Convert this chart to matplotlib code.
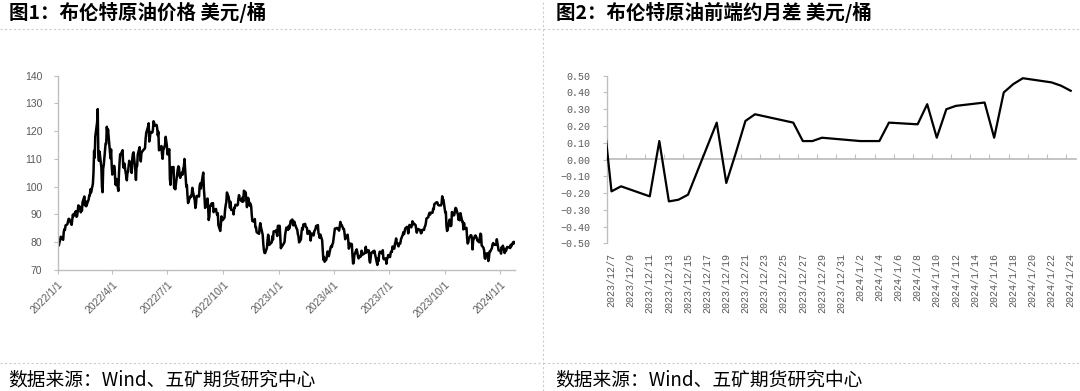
import matplotlib
matplotlib.use("Agg")
import matplotlib.pyplot as plt
from matplotlib.lines import Line2D
import pandas as pd
import numpy as np

plt.rcParams['font.family'] = ['Noto Sans CJK SC', 'DejaVu Sans']

# ---------------- data ----------------
title_left = '图1：布伦特原油价格 美元/桶'
title_right = '图2：布伦特原油前端约月差 美元/桶'
source_text = '数据来源：Wind、五矿期货研究中心'

# Brent daily price (weekdays), USD/bbl
brent_2022 = [
    78.98, 80.00, 80.80, 81.99, 81.75, 80.87, 83.72, 84.67, 84.47, 86.06, 86.48, 87.51, 88.44, 88.38, 87.89, 86.27, 88.20, 89.96, 89.34, 90.03, 91.21,
    89.16, 89.47, 91.11, 93.27, 92.69, 90.78, 91.55, 91.41, 94.44, 96.48, 93.28, 94.81, 92.97, 93.54, 95.39, 96.84, 96.84, 99.08, 97.93, 100.99,
    104.97, 112.93, 110.46, 118.11, 123.21, 127.98, 111.14, 109.33, 112.67, 106.90, 99.91, 98.02, 106.64, 107.93, 115.62, 115.48, 121.60, 119.03, 120.65, 112.48, 110.23, 113.45, 107.91,
    104.39, 107.53, 106.64, 101.07, 100.58, 102.78, 98.48, 104.64, 108.78, 111.70, 111.70, 113.16, 107.25, 106.80, 108.33, 106.65, 102.32, 104.99, 105.32, 107.59, 109.34,
    107.58, 104.97, 110.14, 111.90, 112.39, 105.94, 102.46, 107.51, 107.45, 111.55, 114.24, 111.93, 109.11, 112.04, 112.55, 113.42, 113.56, 114.03, 117.40, 119.43, 121.67, 122.84,
    116.29, 117.61, 119.72, 119.51, 120.57, 123.58, 123.07, 122.01, 122.27, 121.17, 118.51, 119.81, 113.12, 114.13, 114.65, 111.74, 110.05, 113.12, 115.09, 117.98, 116.26, 114.81,
    111.63, 113.50, 102.77, 100.69, 104.65, 107.02, 107.10, 99.49, 99.57, 99.10, 101.16, 106.27, 107.35, 106.92, 103.86, 103.20, 105.15, 104.40, 106.62, 107.14, 110.01,
    100.03, 100.54, 96.78, 94.12, 94.92, 96.65, 96.31, 97.40, 99.60, 98.15, 95.10, 92.34, 93.65, 96.59, 96.72, 96.48, 100.22, 101.22, 99.34, 100.99, 105.09, 99.31, 96.49,
    92.36, 93.02, 95.74, 92.83, 88.00, 89.15, 92.84, 94.00, 93.17, 94.10, 90.84, 91.35, 92.00, 90.62, 89.83, 90.46, 86.15, 84.06, 86.27, 89.32, 88.49, 87.96,
    88.86, 91.80, 93.37, 94.42, 97.92, 96.19, 94.29, 92.45, 94.57, 91.63, 91.62, 90.03, 92.41, 92.38, 93.50, 93.26, 93.52, 95.69, 96.96, 95.77, 94.83,
    94.65, 96.16, 94.67, 98.57, 97.92, 95.36, 92.65, 93.67, 95.99, 93.14, 93.86, 92.86, 89.78, 87.62, 87.45, 88.36, 85.41, 85.34, 83.63, 83.19, 83.03, 85.43,
    86.88, 85.57, 82.68, 79.35, 77.17, 76.15, 76.10, 77.99, 80.68, 82.70, 81.21, 79.04, 79.80, 79.99, 82.20, 80.98, 83.92, 83.92, 84.33, 83.26, 82.26, 85.91,
]
brent_2023 = [
    85.91, 82.10, 77.84, 78.69, 78.57, 79.65, 80.10, 82.67, 84.03, 85.28, 84.46, 85.92, 84.98, 86.16, 87.63, 88.19, 86.13, 86.12, 87.47, 86.66, 84.90, 84.49,
    82.84, 82.17, 79.94, 80.99, 83.69, 85.09, 84.50, 86.39, 86.61, 85.58, 85.38, 85.14, 83.00, 84.07, 83.05, 80.60, 82.21, 83.16, 82.45, 83.89,
    84.31, 84.75, 85.83, 86.18, 83.29, 82.66, 81.59, 82.78, 80.77, 77.45, 73.69, 74.70, 72.97, 73.79, 75.32, 76.69, 75.91, 74.99, 78.12, 78.65, 78.28, 79.27, 79.77,
    84.93, 84.94, 84.99, 85.12, 85.12, 84.18, 85.61, 87.33, 86.09, 86.31, 84.76, 84.77, 83.12, 81.10, 81.66, 82.73, 80.77, 77.69, 78.37, 79.54,
    79.31, 75.32, 72.33, 72.50, 75.30, 77.01, 77.44, 76.41, 74.98, 74.17, 75.23, 74.91, 76.96, 75.86, 75.58, 75.99, 76.84, 78.36, 76.26, 76.95, 77.07, 73.54, 72.66,
    74.28, 76.13, 76.71, 76.29, 76.95, 75.96, 74.79, 71.84, 74.29, 73.20, 75.67, 76.61, 76.09, 75.90, 77.12, 74.14, 73.85, 74.18, 72.26, 74.03, 74.34, 75.41,
    74.65, 76.25, 76.65, 76.52, 78.47, 77.69, 79.40, 80.11, 81.36, 79.87, 78.50, 79.63, 79.46, 79.64, 81.07, 82.74, 83.64, 82.92, 83.81, 84.99, 85.56,
    84.91, 83.20, 85.14, 86.24, 85.34, 86.17, 87.55, 86.40, 86.81, 86.21, 84.89, 83.45, 84.12, 84.80, 84.46, 84.03, 83.21, 83.36, 84.48, 84.42, 85.49, 85.86, 86.86,
    88.55, 89.00, 90.04, 90.60, 89.92, 90.65, 90.64, 92.06, 91.88, 93.70, 93.93, 94.43, 94.34, 93.53, 93.30, 93.27, 93.29, 93.96, 96.55, 95.38, 95.31,
    90.71, 90.92, 85.81, 84.07, 84.58, 88.15, 87.65, 85.82, 86.00, 90.89, 89.65, 89.90, 91.50, 92.38, 92.16, 89.83, 88.07, 90.13, 87.93, 90.48, 87.45, 87.41,
    84.63, 86.85, 84.89, 85.18, 81.61, 79.54, 80.01, 81.43, 82.52, 82.47, 81.18, 77.42, 80.61, 82.32, 82.45, 81.96, 81.42, 80.58, 79.98, 81.68, 83.10, 82.83,
    78.88, 78.03, 77.20, 74.30, 74.05, 75.84, 76.03, 73.24, 74.26, 76.61, 76.55, 77.95, 79.23, 79.70, 79.39, 79.07, 79.07, 81.07, 79.65, 78.39, 77.04,
]
brent_2024 = [77.04, 75.89, 78.25, 77.59, 78.76, 76.12, 77.59, 76.80, 77.41, 78.29, 78.15, 78.29, 77.88, 79.10, 78.56, 80.06, 79.55, 80.04]

price_ticks = [70, 80, 90, 100, 110, 120, 130, 140]
price_xticks = ['2022/1/1', '2022/4/1', '2022/7/1', '2022/10/1', '2023/1/1',
                '2023/4/1', '2023/7/1', '2023/10/1', '2024/1/1']

# Brent front-month spread, USD/bbl
spread_dates = ['2023-12-06', '2023-12-07', '2023-12-08', '2023-12-11', '2023-12-12', '2023-12-13',
                '2023-12-14', '2023-12-15', '2023-12-18', '2023-12-19', '2023-12-20', '2023-12-21',
                '2023-12-22', '2023-12-26', '2023-12-27', '2023-12-28', '2023-12-29', '2024-01-02',
                '2024-01-03', '2024-01-04', '2024-01-05', '2024-01-08', '2024-01-09', '2024-01-10',
                '2024-01-11', '2024-01-12', '2024-01-15', '2024-01-16', '2024-01-17', '2024-01-18',
                '2024-01-19', '2024-01-22', '2024-01-23', '2024-01-24']
spread_values = [0.35, -0.19, -0.16, -0.22, 0.11, -0.25,
                 -0.24, -0.21, 0.22, -0.14, 0.04, 0.23,
                 0.27, 0.22, 0.11, 0.11, 0.13, 0.11,
                 0.11, 0.11, 0.22, 0.21, 0.33, 0.13,
                 0.30, 0.32, 0.34, 0.13, 0.40, 0.45,
                 0.485, 0.46, 0.44, 0.41]
spread_axis_start = '2023-12-07'
spread_axis_end = '2024-01-24'
spread_yticks = [-0.5, -0.4, -0.3, -0.2, -0.1, 0.0, 0.1, 0.2, 0.3, 0.4, 0.5]

# ---------------- figure ----------------
W, H = 1080, 391
fig = plt.figure(figsize=(W / 100, H / 100), dpi=100)
fig.patch.set_facecolor('white')

def fx(px):
    return px / W

def fy(py):
    return 1 - py / H

AX_GREY = '#bfbfbf'
TXT_GREY = '#595959'
SEP = '#cccccc'

# separators
for x0, x1 in [(0, 540), (543, 1080)]:
    fig.add_artist(Line2D([fx(x0), fx(x1)], [fy(29), fy(29)], transform=fig.transFigure,
                          color=SEP, lw=0.8, ls=(0, (2, 2))))
    fig.add_artist(Line2D([fx(x0), fx(x1)], [fy(363), fy(363)], transform=fig.transFigure,
                          color=SEP, lw=0.8, ls=(0, (2, 2))))
fig.add_artist(Line2D([fx(543), fx(543)], [0, 1], transform=fig.transFigure,
                      color=SEP, lw=0.8, ls=(0, (2, 2))))

# titles and footers
fig.text(fx(8.6), fy(12.5), title_left, fontsize=14, fontweight='bold', ha='left', va='center')
fig.text(fx(556.5), fy(12.5), title_right, fontsize=14, fontweight='bold', ha='left', va='center')
fig.text(fx(8.6), fy(380), source_text, fontsize=13.5, ha='left', va='center')
fig.text(fx(555.5), fy(380), source_text, fontsize=13.5, ha='left', va='center')

# ---------------- left chart ----------------
axL = fig.add_axes([fx(57.7), fy(270), fx(515 - 57.7), (270 - 75.7) / H])
d22 = pd.bdate_range('2022-01-03', periods=len(brent_2022))
d23 = pd.bdate_range('2023-01-02', periods=len(brent_2023))
d24 = pd.bdate_range('2024-01-01', periods=len(brent_2024))
dates = d22.append(d23).append(d24)
prices = np.array(brent_2022 + brent_2023 + brent_2024)
axL.plot(dates, prices, color='black', lw=1.8, solid_joinstyle='round')
axL.set_xlim(pd.Timestamp('2022-01-01'), pd.Timestamp('2024-01-25'))
axL.set_ylim(70, 140)
axL.set_yticks(price_ticks)
axL.set_yticklabels([str(v) for v in price_ticks], fontsize=7.5, color=TXT_GREY,
                    family=['Liberation Sans'])
xt = [pd.Timestamp(s.replace('/', '-')) for s in price_xticks]
axL.set_xticks(xt)
axL.set_xticklabels(price_xticks, rotation=45, ha='right', va='top', rotation_mode='anchor',
                    fontsize=7.5, color=TXT_GREY, family=['Liberation Sans'])
for s in ['top', 'right']:
    axL.spines[s].set_visible(False)
for s in ['left', 'bottom']:
    axL.spines[s].set_color(AX_GREY)
    axL.spines[s].set_linewidth(1.0)
axL.tick_params(axis='y', direction='out', length=3, color=AX_GREY, pad=8)
axL.tick_params(axis='x', direction='out', length=3, color=AX_GREY, pad=4)

# ---------------- right chart ----------------
axR = fig.add_axes([fx(606.7), fy(243.3), fx(1075.5 - 606.7), (243.3 - 75.7) / H])
start = pd.Timestamp(spread_axis_start)
end = pd.Timestamp(spread_axis_end)
slots = np.array([(pd.Timestamp(d) - start).days for d in spread_dates])
axR.plot(slots, spread_values, color='black', lw=1.6, solid_joinstyle='round', zorder=3)
nslots = (end - start).days
axR.set_xlim(-0.5, nslots + 0.5)
axR.set_ylim(-0.5, 0.5)
axR.set_yticks(spread_yticks)
axR.set_yticklabels([('\u2212%.2f' % abs(v)) if v < 0 else '%.2f' % v for v in spread_yticks],
                    fontsize=7.2, color=TXT_GREY, family=['Liberation Mono'])
lab_slots = list(range(0, nslots + 1, 2))
lab_text = []
for s in lab_slots:
    d = start + pd.Timedelta(days=s)
    lab_text.append(f'{d.year}/{d.month}/{d.day}')
axR.set_xticks(lab_slots)
axR.set_xticklabels(lab_text, rotation=90, ha='center', va='top', fontsize=7.2,
                    color=TXT_GREY, family=['Liberation Mono'])
axR.tick_params(axis='x', length=0, pad=7)
axR.tick_params(axis='y', direction='out', length=3, color=AX_GREY, pad=9)
for s in ['top', 'right', 'bottom']:
    axR.spines[s].set_visible(False)
axR.spines['left'].set_color(AX_GREY)
axR.spines['left'].set_linewidth(1.0)

sec = axR.secondary_xaxis(0.5)
sec.set_xticks([s - 0.5 for s in lab_slots[:-1]] + [nslots - 0.5])
sec.set_xticklabels([])
sec.tick_params(axis='x', direction='out', length=3.5, color=AX_GREY)
for sp in sec.spines.values():
    sp.set_color(AX_GREY)
    sp.set_linewidth(1.3)
sec.set_zorder(1)

fig.savefig('out.png', dpi=100, facecolor='white')
